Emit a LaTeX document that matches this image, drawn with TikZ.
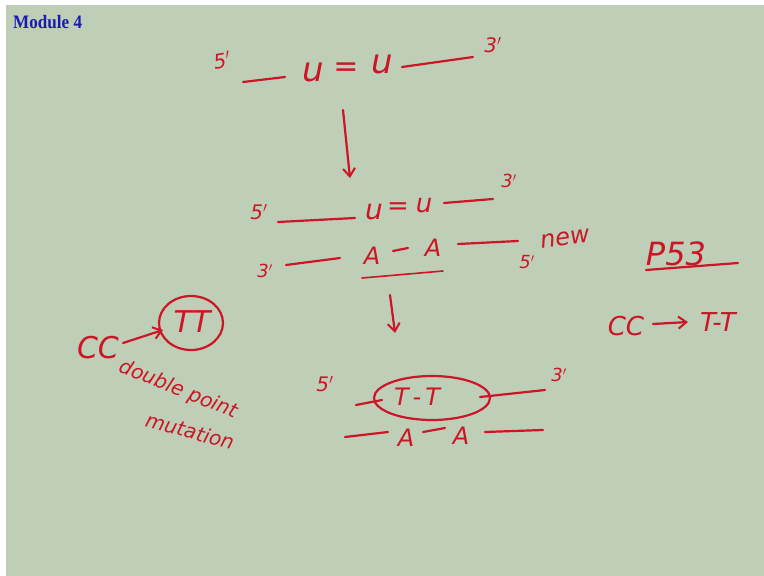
\documentclass[tikz,border=0pt]{standalone}
\usepackage{fontspec}
\setmainfont{Liberation Serif}
\newfontfamily\hand{DejaVu Sans}
\usetikzlibrary{arrows.meta}
\definecolor{bg}{HTML}{BFCEB6}
\definecolor{ink}{HTML}{CC1526}
\definecolor{title}{HTML}{1A1AB0}
\newcommand{\hf}[1]{\hand\itshape\fontsize{#1}{#1}\selectfont}
\tikzset{
  stroke/.style={draw=ink, line width=2.2pt, line cap=round, line join=round},
  txt/.style={text=ink, inner sep=0pt},
  arr/.style={stroke, -{Straight Barb[length=8pt,width=12pt,line width=2pt]}},
}
\begin{document}
\begin{tikzpicture}[x=1pt,y=-1pt]
\useasboundingbox (0,0) rectangle (764,576);
\fill[white] (0,0) rectangle (764,576);
\fill[bg] (6,5) rectangle (764,576);
\node[anchor=west, text=title, font=\bfseries\fontsize{19}{20}\selectfont, inner sep=0pt, xscale=0.9] (mod) at (13,22) {Module 4};

% top strand
\node[txt, font=\hf{20}, rotate=10] (p5a) at (222,60) {5$'$};
\coordinate (a1) at (243,82); \coordinate (a2) at (285,77);
\node[txt, font=\hf{34}] (u1) at (313,72) {u};
\node[txt, font=\hf{30}] (eq1) at (346,70) {=};
\node[txt, font=\hf{34}] (u2) at (382,64) {u};
\coordinate (a3) at (402,67); \coordinate (a4) at (473,57);
\node[txt, font=\hf{20}] (p3a) at (493,45) {3$'$};
\draw[stroke] (a1) -- (a2);
\draw[stroke] (a3) -- (a4);

% arrow 1
\coordinate (d1) at (343,110); \coordinate (d2) at (350,178);
\draw[arr] (d1) -- (d2);

% second: top strand
\node[txt, font=\hf{20}] (p5b) at (259,212) {5$'$};
\coordinate (b1) at (278,222); \coordinate (b2) at (355,218);
\node[txt, font=\hf{28}] (u3) at (374,212) {u};
\node[txt, font=\hf{26}] (eq2) at (398,209) {=};
\node[txt, font=\hf{26}] (u4) at (424,206) {u};
\coordinate (b3) at (444,203); \coordinate (b4) at (493,199);
\node[txt, font=\hf{18}] (p3b) at (509,181) {3$'$};
\draw[stroke] (b1) -- (b2);
\draw[stroke] (b3) -- (b4);

% second: bottom strand
\node[txt, font=\hf{18}] (p3c) at (265,271) {3$'$};
\coordinate (c1) at (286,265); \coordinate (c2) at (340,258);
\node[txt, font=\hf{24}] (A1) at (372,256) {A};
\coordinate (c3) at (393,251); \coordinate (c4) at (408,248);
\node[txt, font=\hf{24}] (A2) at (433,248) {A};
\coordinate (c5) at (458,244); \coordinate (c6) at (518,241);
\node[txt, font=\hf{18}] (p5c) at (527,262) {5$'$};
\node[txt, font=\hf{24}, rotate=8] (new) at (565,239) {new};
\draw[stroke] (c1) -- (c2);
\draw[stroke] (c3) -- (c4);
\draw[stroke] (c5) -- (c6);
\coordinate (ul1) at (362,278); \coordinate (ul2) at (443,271);
\draw[stroke, line width=1.6pt] (ul1) -- (ul2);

% arrow 2
\coordinate (e1) at (390,295); \coordinate (e2) at (395,333);
\draw[arr] (e1) -- (e2);

% left side
\node[txt, font=\hf{30}] (CC) at (98,348) {CC};
\node[txt, font=\hf{30}] (TT) at (192,322) {TT};
\coordinate (f1) at (123,343); \coordinate (f2) at (163,330);
\draw[arr] (f1) -- (f2);
\draw[stroke] (191,323) ellipse [x radius=32pt, y radius=27pt];
\node[txt, font=\hf{20}, rotate=-22] (dp) at (178,390) {double point};
\node[txt, font=\hf{20}, rotate=-15] (mut) at (190,431) {mutation};

% bottom pair
\node[txt, font=\hf{20}] (p5d) at (325,384) {5$'$};
\node[txt, font=\hf{24}] (TT2) at (417,397) {T\,-\,T};
\draw[stroke] (432,398) ellipse [x radius=58pt, y radius=22pt];
\coordinate (g1) at (356,405); \coordinate (g2) at (382,400);
\coordinate (g3) at (480,397); \coordinate (g4) at (545,390);
\node[txt, font=\hf{18}] (p3d) at (559,375) {3$'$};
\draw[stroke] (g1) -- (g2);
\draw[stroke] (g3) -- (g4);
\coordinate (h1) at (345,437); \coordinate (h2) at (388,432);
\node[txt, font=\hf{24}] (A3) at (406,438) {A};
\coordinate (h3) at (423,432); \coordinate (h4) at (445,428);
\node[txt, font=\hf{24}] (A4) at (461,436) {A};
\coordinate (h5) at (485,432); \coordinate (h6) at (543,430);
\draw[stroke] (h1) -- (h2);
\draw[stroke] (h3) -- (h4);
\draw[stroke] (h5) -- (h6);

% right side
\node[txt, font=\hf{32}] (p53) at (676,254) {P53};
\coordinate (k1) at (646,270); \coordinate (k2) at (738,263);
\draw[stroke] (k1) -- (k2);
\node[txt, font=\hf{26}] (CC2) at (626,326) {CC};
\coordinate (m1) at (653,324); \coordinate (m2) at (688,322);
\draw[arr] (m1) -- (m2);
\node[txt, font=\hf{26}] (TT3) at (718,322) {T-T};
\end{tikzpicture}
\end{document}
